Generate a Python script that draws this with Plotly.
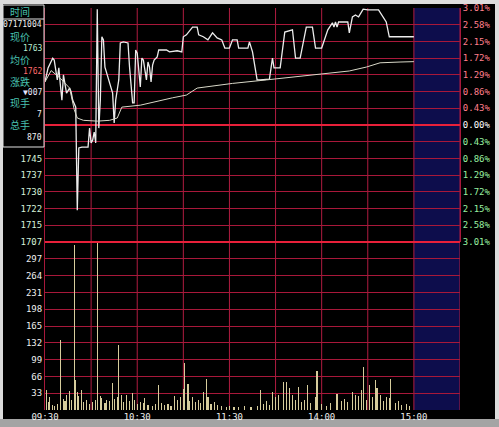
import plotly.graph_objects as go

# ---------------- data ----------------
base_price = 1760
# minutes after 09:30 (trading minutes, 240 = 15:00) and % change of price
price_min = [0, 2, 5, 6, 8, 9, 10, 11, 12, 13, 14, 16, 17, 18, 20, 21, 22, 24, 28, 29,
             30, 31, 32, 33, 34, 35, 36, 37, 38, 39, 41, 42, 44, 45, 46, 47, 48, 49, 51, 54,
             55, 57, 58, 59, 60, 62, 63, 64, 66, 67, 68, 69, 70, 71, 73, 74, 79, 81, 86, 89,
             90, 92, 96, 99, 100, 103, 106, 109, 112, 115, 117, 120, 122, 125, 126, 132, 133, 135, 138, 140,
             146, 148, 149, 153, 156, 161, 163, 166, 170, 174, 176, 180, 182, 184, 187, 188, 189, 190, 191, 197,
             198, 200, 202, 204, 207, 210, 217, 219, 222, 224, 240]
price_pct = [1.11, 1.47, 1.72, 1.67, 1.16, 1.47, 1.03, 0.64, 1.29, 1.03, 0.82, 0.95, 0.85, 0.64, 0.46, -2.19, -0.59, -0.57, -0.57, -0.08,
             -0.46, -0.39, -0.18, -0.46, 2.98, -0.08, 0.64, 2.27, 2.19, 1.49, 1.24, 1.08, 0.82, 0.05, 0.64, 0.90, 1.16, 2.11, 2.14, 2.11,
             1.49, 0.57, 0.57, 1.93, 1.85, 0.98, 1.72, 1.67, 1.16, 1.62, 1.49, 1.11, 1.54, 1.67, 1.75, 1.93, 1.93, 1.88, 1.91, 1.88,
             2.27, 2.32, 2.52, 2.52, 2.32, 2.27, 2.19, 2.37, 2.24, 2.19, 1.98, 1.98, 2.19, 2.19, 1.98, 1.98, 2.14, 1.88, 1.16, 1.16,
             1.18, 1.72, 1.47, 1.47, 2.39, 2.45, 1.72, 1.72, 2.52, 2.52, 1.98, 1.98, 2.19, 2.45, 2.63, 2.52, 2.65, 2.52, 2.65, 2.65,
             2.37, 2.78, 2.83, 2.78, 2.98, 2.96, 2.96, 2.83, 2.65, 2.27, 2.27]

avg_min = [0, 4, 10, 16, 19, 21, 25, 34, 42, 47, 50, 62, 83, 92, 99, 109, 122, 144, 166, 187, 198, 209, 218, 231, 240]
avg_pct = [1.11, 1.40, 1.20, 0.95, 0.40, 0.18, 0.12, 0.10, 0.12, 0.18, 0.46, 0.51, 0.70, 0.77, 0.95, 1.00, 1.07, 1.16, 1.26, 1.34,
           1.39, 1.49, 1.60, 1.62, 1.63]

vol_min = [1, 2, 3, 5, 6, 8, 10, 12, 13, 14, 16, 17, 19, 20, 21, 22, 24, 25, 27, 29,
           31, 33, 34, 36, 37, 39, 40, 42, 44, 45, 47, 48, 50, 51, 53, 55, 57, 58, 60, 62,
           64, 65, 67, 70, 72, 74, 76, 78, 80, 82, 84, 86, 88, 90, 91, 93, 94, 96, 98, 100,
           101, 103, 105, 106, 108, 110, 112, 115, 118, 120, 123, 126, 130, 134, 138, 140, 142, 144, 146, 148,
           150, 152, 155, 157, 159, 161, 163, 165, 167, 169, 171, 173, 176, 177, 180, 183, 186, 190, 193, 195,
           197, 200, 202, 204, 206, 207, 209, 211, 213, 215, 216, 218, 220, 222, 224, 225, 228, 230, 232, 235, 237]
vol_val = [39, 15, 26, 10, 8, 12, 138, 22, 18, 30, 37, 20, 325, 59, 35, 28, 39, 15, 20, 12,
           16, 20, 400, 28, 24, 14, 20, 18, 53, 22, 26, 128, 30, 15, 30, 18, 33, 20, 12, 15,
           14, 24, 10, 8, 12, 49, 14, 10, 12, 8, 28, 20, 25, 41, 92, 51, 18, 26, 15, 20,
           14, 35, 61, 25, 12, 16, 10, 8, 6, 8, 5, 6, 8, 5, 7, 39, 12, 18, 10, 35,
           25, 30, 55, 55, 43, 30, 20, 45, 16, 20, 49, 14, 25, 77, 12, 8, 14, 32, 18, 22,
           15, 35, 30, 28, 39, 85, 20, 49, 25, 59, 43, 30, 18, 26, 24, 61, 14, 18, 10, 12, 8]

pct_levels = [3.01, 2.58, 2.15, 1.72, 1.29, 0.86, 0.43, 0.00, -0.43, -0.86, -1.29, -1.72, -2.15, -2.58, -3.01]
pct_labels = ["3.01%", "2.58%", "2.15%", "1.72%", "1.29%", "0.86%", "0.43%", "0.00%",
              "0.43%", "0.86%", "1.29%", "1.72%", "2.15%", "2.58%", "3.01%"]
price_labels = ["", "", "", "", "", "", "", "", "", "1745", "1737", "1730", "1722", "1715", "1707"]
vol_ticks = [0, 33, 66, 99, 132, 165, 198, 231, 264, 297, 330]
vol_labels = ["", "33", "66", "99", "132", "165", "198", "231", "264", "297", ""]
time_ticks = [0, 30, 60, 90, 120, 150, 180, 210, 240, 270]
time_labels = ["09:30", "", "10:30", "", "11:30", "", "14:00", "", "15:00", ""]

info_texts = ["时间", "07171004", "现价", "1763", "均价", "1762", "涨跌", "▼007", "现手", "7", "总手", "870"]

# ---------------- layout helpers ----------------
W, H = 499, 427
L, R, T, B = 45, 39, 8, 17
PW, PH = W - L - R, H - T - B
def px(x):
    return (x - L) / PW
def py(y):
    return (H - B - y) / PH

vol_top = py(242)
GRID = "#a8183a"
VGRID = "#b01c40"
BRIGHT = "#e8203a"
MONO = "DejaVu Sans Mono"

fig = go.Figure()
fig.add_trace(go.Bar(x=vol_min, y=vol_val, xaxis="x", yaxis="y2", width=0.75,
                     marker=dict(color="#d6cc9c", line=dict(width=0)), hoverinfo="skip"))
fig.add_trace(go.Scatter(x=price_min, y=price_pct, xaxis="x", yaxis="y", mode="lines",
                         line=dict(color="#ececec", width=1.3), hoverinfo="skip"))
fig.add_trace(go.Scatter(x=avg_min, y=avg_pct, xaxis="x", yaxis="y3", mode="lines",
                         line=dict(color="#d8d8c8", width=1), hoverinfo="skip"))

def colored(lbl, v):
    if v > 0:
        c = "#ff7f8c"
    elif v < 0:
        c = "#98f0a0"
    else:
        c = "#ffffff"
    return f"<span style='color:{c}'>{lbl}</span>"

fig.update_layout(
    width=W, height=H,
    margin=dict(l=L, r=R, t=T, b=B, pad=0),
    paper_bgcolor="#dcdcdc", plot_bgcolor="#000000",
    showlegend=False, bargap=0,
    xaxis=dict(domain=[0, 1], range=[0, 270], anchor="y2", tickvals=time_ticks, ticktext=time_labels,
               showgrid=False, zeroline=False, ticks="", automargin=False,
               tickfont=dict(family=MONO, size=9, color="#f0f0f0"), fixedrange=True),
    yaxis=dict(domain=[vol_top, 1], range=[-3.01, 3.01], tickvals=pct_levels, ticktext=price_labels,
               showgrid=True, gridcolor=GRID, gridwidth=1, zeroline=True, zerolinecolor=BRIGHT,
               zerolinewidth=2, ticks="", showline=True, linecolor=GRID, automargin=False,
               tickfont=dict(family=MONO, size=9, color="#d4f0d8")),
    yaxis3=dict(overlaying="y", side="right", range=[-3.01, 3.01], tickvals=pct_levels,
                ticktext=[colored(l, v) for l, v in zip(pct_labels, pct_levels)],
                showgrid=False, zeroline=False, ticks="", showline=True, linecolor=GRID, automargin=False,
                tickfont=dict(family=MONO, size=9, color="#ffffff")),
    yaxis2=dict(domain=[0, vol_top], range=[0, 330], tickvals=vol_ticks, ticktext=vol_labels,
                showgrid=True, gridcolor=GRID, gridwidth=1, zeroline=False, ticks="",
                showline=True, linecolor=GRID, automargin=False,
                tickfont=dict(family=MONO, size=9, color="#eeeeee")),
)

shapes = [
    dict(type="rect", xref="paper", yref="paper", x0=px(3), x1=px(495), y0=py(419), y1=py(4),
         fillcolor="#000000", line=dict(width=0), layer="below"),
    dict(type="rect", xref="paper", yref="paper", x0=px(0), x1=px(499), y0=py(427), y1=py(419),
         fillcolor="#a4a4a4", line=dict(width=0), layer="below"),
    dict(type="rect", xref="x", yref="paper", x0=240, x1=270, y0=0, y1=1,
         fillcolor="#0d0d4c", line=dict(width=0), layer="below"),
]
# vertical half-hour grid lines
for t in time_ticks[1:]:
    shapes.append(dict(type="line", xref="x", yref="paper", x0=t, x1=t, y0=0, y1=1,
                       line=dict(color=VGRID, width=1), layer="below"))
shapes += [
    dict(type="line", xref="paper", yref="paper", x0=0, x1=1, y0=vol_top, y1=vol_top,
         line=dict(color=BRIGHT, width=2)),
    dict(type="rect", xref="paper", yref="paper", x0=px(3), x1=px(44), y0=py(147), y1=py(5),
         fillcolor="rgba(0,0,0,0)", line=dict(color="#e0e0e0", width=1)),
    dict(type="line", xref="paper", yref="paper", x0=px(3), x1=px(44), y0=py(19), y1=py(19),
         line=dict(color="#e0e0e0", width=1)),
]
fig.update_layout(shapes=shapes)

info_y = [12, 25, 36, 48, 59, 71, 81, 92, 103, 115, 125, 137]
label_col = "#48c0b0"
num_cols = ["#f0f0f0", "#b8ecd0", "#ff6a6a", "#e8e8ff", "#f0f0f0", "#f0f0f0"]
annos = []
for i, (txt, yy) in enumerate(zip(info_texts, info_y)):
    if i % 2 == 0:
        annos.append(dict(xref="paper", yref="paper", x=px(9), y=py(yy), text=txt, showarrow=False,
                          xanchor="left", yanchor="middle", borderpad=0,
                          font=dict(family="Noto Sans CJK SC", size=10, color=label_col)))
    else:
        annos.append(dict(xref="paper", yref="paper", x=px(43), y=py(yy), text=txt, showarrow=False,
                          xanchor="right", yanchor="middle", borderpad=0,
                          font=dict(family=MONO, size=8, color=num_cols[i // 2])))
fig.update_layout(annotations=annos)

fig.write_html("out.html", config={"displayModeBar": False, "staticPlot": True},
               post_script="document.body.style.margin='0';")
